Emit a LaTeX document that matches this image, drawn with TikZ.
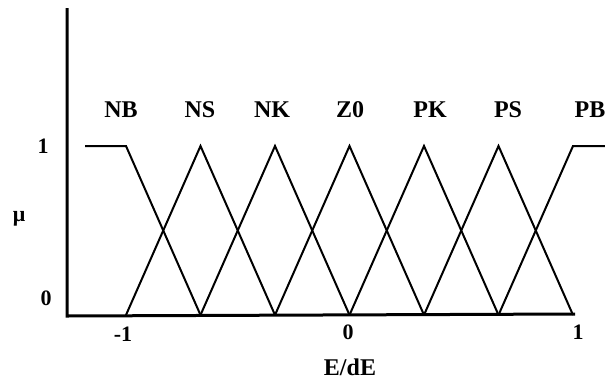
\documentclass[tikz,border=0pt]{standalone}
\usepackage{fontspec}
\setmainfont{Liberation Serif}
\begin{document}
\begin{tikzpicture}[x=1pt,y=-1pt,
  lbl/.style={font=\bfseries\fontsize{24}{26}\selectfont, inner sep=0pt},
  tick/.style={font=\bfseries\fontsize{22}{24}\selectfont, inner sep=0pt},
  axis/.style={line width=3pt},
  mf/.style={line width=2pt, line join=miter}]
\useasboundingbox (0,0) rectangle (605,381);
% axes
\coordinate (top) at (67,8);
\coordinate (origin) at (67,316);
\coordinate (xend) at (575,314);
\draw[axis] (top) -- (origin) -- (xend);
% positions
\foreach \i/\x in {0/126,1/200.5,2/275,3/349.5,4/424,5/498.5,6/573}{
  \coordinate (b\i) at (\x,315);
  \coordinate (t\i) at (\x,146);
}
\coordinate (nbstart) at (85,146);
\coordinate (pbend) at (605,146);
% membership functions
\draw[mf] (nbstart) -- (t0) -- (b1);
\draw[mf] (b0) -- (t1) -- (b2);
\draw[mf] (b1) -- (t2) -- (b3);
\draw[mf] (b2) -- (t3) -- (b4);
\draw[mf] (b3) -- (t4) -- (b5);
\draw[mf] (b4) -- (t5) -- (b6);
\draw[mf] (b5) -- (t6) -- (pbend);
% set labels
\node[lbl] (NB) at (121,110) {NB};
\node[lbl] (NS) at (200,110) {NS};
\node[lbl] (NK) at (272,110) {NK};
\node[lbl] (Z0) at (350,110) {Z0};
\node[lbl] (PK) at (430,110) {PK};
\node[lbl] (PS) at (508,110) {PS};
\node[lbl] (PB) at (590,110) {PB};
% y labels
\node[tick] (one) at (43,146) {1};
\node[tick] (zero) at (46,298) {0};
\node[tick] (mu) at (19,219) {μ};
% x labels
\node[tick] (xm1) at (123,334) {-1};
\node[tick] (x0) at (348,332) {0};
\node[tick] (x1) at (578,332) {1};
\node[lbl] (xlab) at (350,367) {E/dE};
\end{tikzpicture}
\end{document}
